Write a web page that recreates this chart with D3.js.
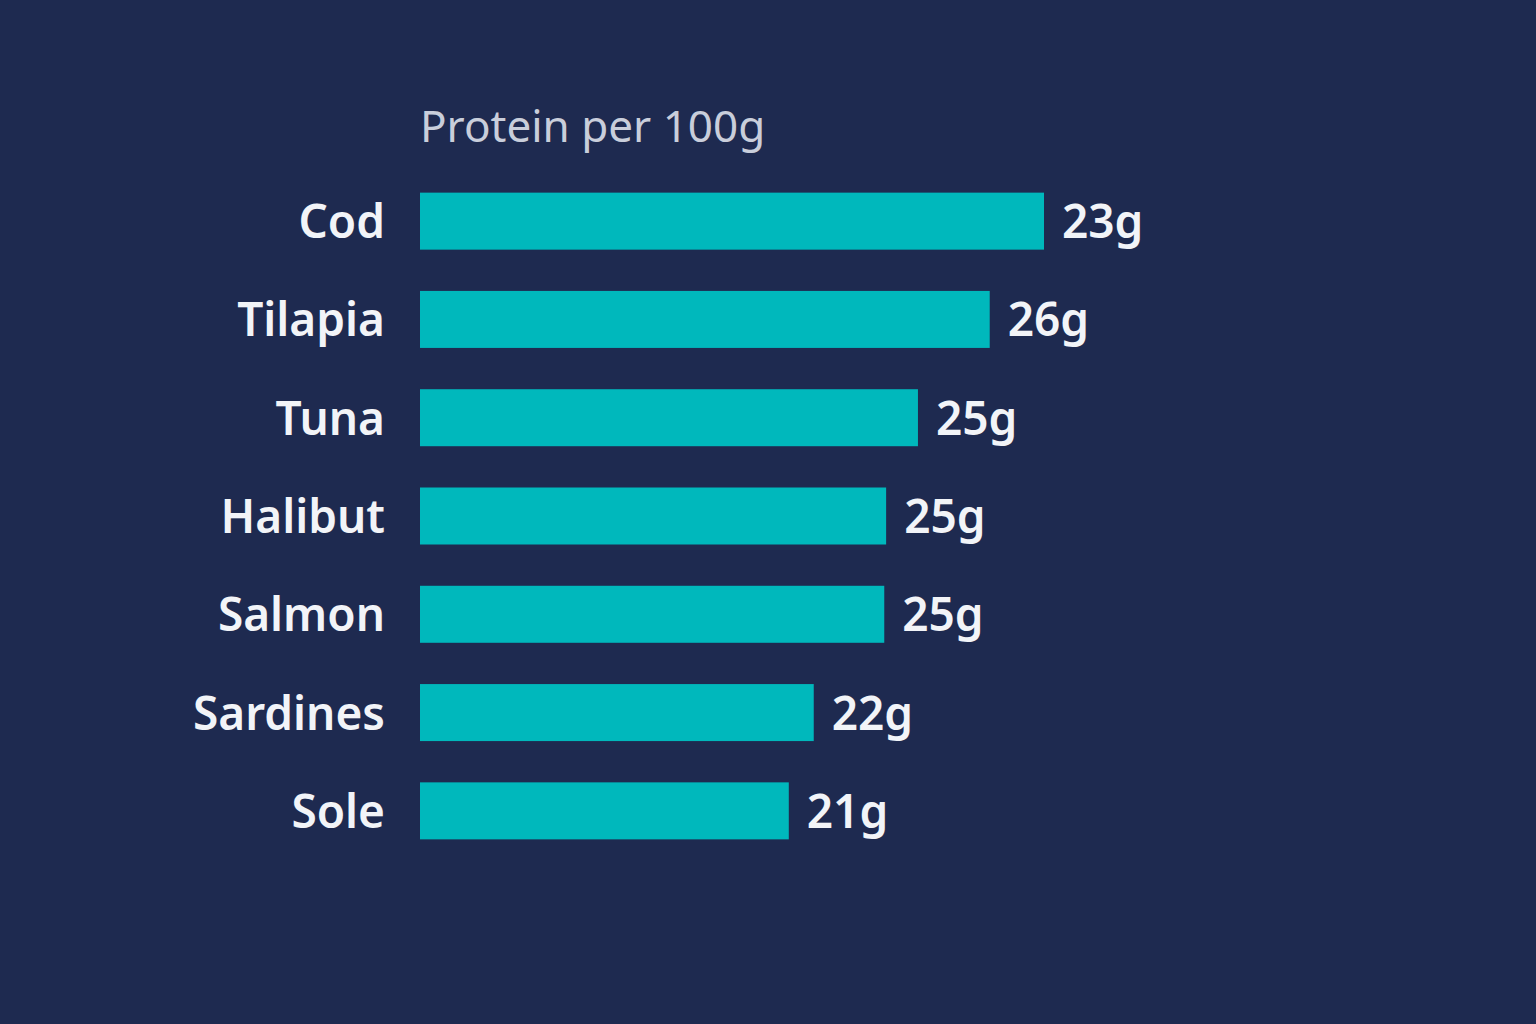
<!DOCTYPE html>
<html><head><meta charset="utf-8">
<script src="https://cdn.jsdelivr.net/npm/d3@7"></script>
<style>html,body{margin:0;padding:0;background:#1e2a50;}</style>
</head><body>
<svg id="chart" width="1536" height="1024"></svg>
<script>
const categories = ["Cod","Tilapia","Tuna","Halibut","Salmon","Sardines","Sole"];
// bar lengths as drawn in the reference (relative units, longest = 100)
const barValues = [100, 91.3, 79.8, 74.7, 74.4, 63.1, 59.1];
const valueLabels = ["23g","26g","25g","25g","25g","22g","21g"];
const title = "Protein per 100g";

const svg = d3.select("#chart");
svg.append("rect").attr("width",1536).attr("height",1024).attr("fill","#1e2a50");

const x = d3.scaleLinear().domain([0,100]).range([420,1044]);
const y = d3.scaleBand().domain(categories).range([172,860]).paddingInner(0.42).paddingOuter(0.21);

const font = "'Noto Sans',sans-serif";

svg.append("text").attr("x",420).attr("y",142).text(title)
  .attr("font-family",font).attr("font-size",44).attr("font-weight",400).attr("fill","#c9cedb");

const g = svg.selectAll("g.row").data(categories).join("g").attr("class","row");
g.append("rect").attr("x",x(0)).attr("y",d=>y(d)).attr("height",y.bandwidth())
  .attr("width",(d,i)=>x(barValues[i])-x(0)).attr("fill","#00b8bc");
g.append("text").attr("x",385).attr("y",d=>y(d)+y.bandwidth()/2).attr("dy","0.37em")
  .attr("text-anchor","end").text(d=>d)
  .attr("font-family",font).attr("font-size",46).attr("font-weight",600).attr("fill","#f2f4f8");
g.append("text").attr("x",(d,i)=>x(barValues[i])+18).attr("y",d=>y(d)+y.bandwidth()/2).attr("dy","0.37em")
  .text((d,i)=>valueLabels[i])
  .attr("font-family",font).attr("font-size",46).attr("font-weight",600).attr("fill","#f2f4f8");
</script>
</body></html>
